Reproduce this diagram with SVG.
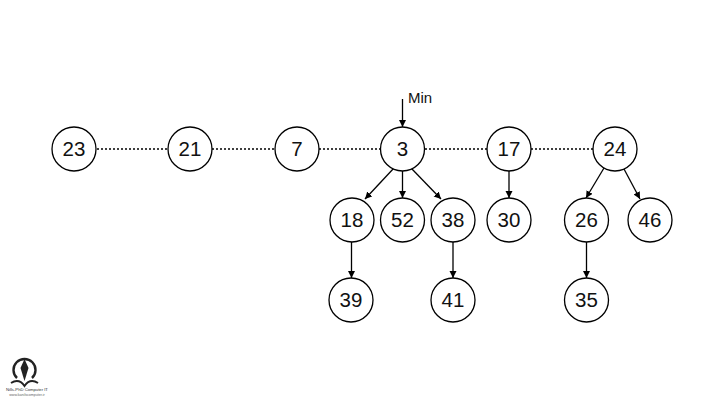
<svg xmlns="http://www.w3.org/2000/svg" width="720" height="405" viewBox="0 0 720 405">
<style>
.n{fill:#fff;stroke:#000;stroke-width:1.3}
.t{font-family:"Liberation Sans",Arial,sans-serif;font-size:20.500px;text-anchor:middle;fill:#111}
.c{stroke:#000;stroke-width:1.3;fill:none;marker-end:url(#a)}
.d{stroke:#000;stroke-width:1.7;stroke-dasharray:2 2;fill:none}
</style>
<defs><marker id="a" markerUnits="userSpaceOnUse" markerWidth="9" markerHeight="9" refX="7" refY="3.500" orient="auto"><path d="M0 0L7 3.500L0 7z" fill="#000"/></marker></defs>
<rect width="720" height="405" fill="#fff"/>
<g id="connectors">
<path class="d" d="M97 149H168M212 149H275M319 149H380M425 149H487M531 149H593"/>
<path class="c" d="M402.500 99V127"/>
<path class="c" d="M394 168L365 199"/>
<path class="c" d="M402.500 171V198"/>
<path class="c" d="M411 168L441 199"/>
<path class="c" d="M509 171V198"/>
<path class="c" d="M604 168L586 198"/>
<path class="c" d="M624 169L640 199"/>
<path class="c" d="M351.500 242V278"/>
<path class="c" d="M453 242V278"/>
<path class="c" d="M586.500 242V278"/>
</g>
<g id="n23"><circle class="n" cx="74" cy="149" r="22"/><text class="t" x="74" y="156">23</text></g>
<g id="n21"><circle class="n" cx="190" cy="149" r="22"/><text class="t" x="190" y="156">21</text></g>
<g id="n7"><circle class="n" cx="297" cy="149" r="22"/><text class="t" x="297" y="156">7</text></g>
<g id="n3"><circle class="n" cx="402.500" cy="149" r="22"/><text class="t" x="402.500" y="156">3</text></g>
<g id="n17"><circle class="n" cx="509" cy="149" r="22"/><text class="t" x="509" y="156">17</text></g>
<g id="n24"><circle class="n" cx="615" cy="149" r="22"/><text class="t" x="615" y="156">24</text></g>
<g id="n18"><circle class="n" cx="352" cy="220" r="22"/><text class="t" x="352" y="227">18</text></g>
<g id="n52"><circle class="n" cx="402.500" cy="220" r="22"/><text class="t" x="402.500" y="227">52</text></g>
<g id="n38"><circle class="n" cx="453" cy="220" r="22"/><text class="t" x="453" y="227">38</text></g>
<g id="n30"><circle class="n" cx="509" cy="220" r="22"/><text class="t" x="509" y="227">30</text></g>
<g id="n26"><circle class="n" cx="586.500" cy="220" r="22"/><text class="t" x="586.500" y="227">26</text></g>
<g id="n46"><circle class="n" cx="650" cy="220" r="22"/><text class="t" x="650" y="227">46</text></g>
<g id="n39"><circle class="n" cx="351" cy="300" r="22"/><text class="t" x="351" y="307">39</text></g>
<g id="n41"><circle class="n" cx="453" cy="300" r="22"/><text class="t" x="453" y="307">41</text></g>
<g id="n35"><circle class="n" cx="586.500" cy="300" r="22"/><text class="t" x="586.500" y="307">35</text></g>
<text x="408" y="103" font-family="Liberation Sans,Arial,sans-serif" font-size="15" fill="#111">Min</text>
<g id="logo" fill="none" stroke="#222">
<path d="M17 378A11 11 0 1 1 32 378" stroke-width="2.400"/>
<path d="M24.500 359L28.500 368L24.500 381L20.500 368z" fill="#222" stroke="none"/>
<path d="M11 383Q19 378 24.500 386Q30 378 38 383" stroke-width="2"/>
<text x="27" y="391" font-family="Liberation Sans,Arial,sans-serif" font-size="4.200" fill="#333" stroke="none" text-anchor="middle">Nills-PhD Computer IT</text>
<text x="27" y="396" font-family="Liberation Sans,Arial,sans-serif" font-size="3.600" fill="#666" stroke="none" text-anchor="middle">www.kanilscomputer.ir</text>
</g>
</svg>
